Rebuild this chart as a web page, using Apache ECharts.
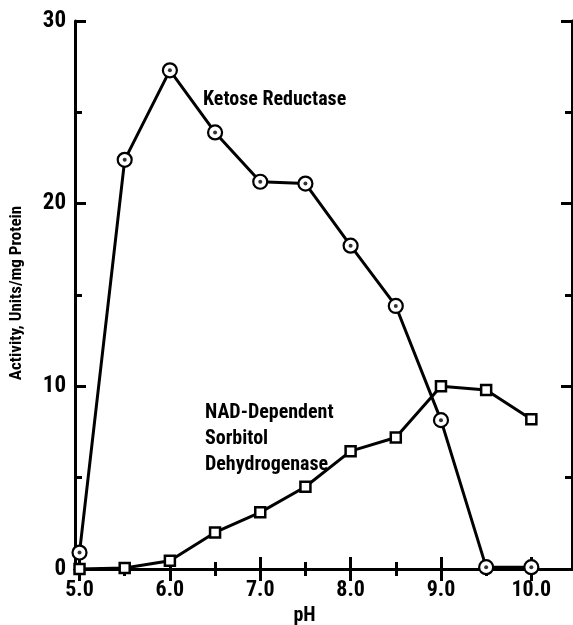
<!DOCTYPE html>
<html><head><meta charset="utf-8">
<script src="https://cdn.jsdelivr.net/npm/echarts@6/dist/echarts.min.js"></script>
<style>html,body{margin:0;padding:0;background:#fff}#c{width:573px;height:625px}</style>
</head><body><div id="c"></div>
<script>
const phValues = [5.0, 5.5, 6.0, 6.5, 7.0, 7.5, 8.0, 8.5, 9.0, 9.5, 10.0];
const ketoseReductase = [0.9, 22.4, 27.3, 23.9, 21.2, 21.1, 17.7, 14.4, 8.15, 0.1, 0.1];
const sorbitolDH = [0.0, 0.05, 0.45, 2.0, 3.1, 4.5, 6.45, 7.2, 10.0, 9.8, 8.2];
const xTickLabels = [5, 6, 7, 8, 9, 10];
const xHalfTicks = [5.5, 6.5, 7.5, 8.5, 9.5];
const yTickLabels = [0, 10, 20, 30];
const seriesNames = ['Ketose Reductase', 'NAD-Dependent Sorbitol Dehydrogenase'];
const annotationKetose = 'Ketose Reductase';
const annotationSDH = ['NAD-Dependent', 'Sorbitol', 'Dehydrogenase'];

const FONT = "'Roboto Condensed', 'Liberation Sans Narrow', 'DejaVu Sans Condensed', sans-serif";
const AX = {lineStyle: {color: '#000', width: 3}};
const pair = (xs, ys) => xs.map((x, i) => [x, ys[i]]);

const chart = echarts.init(document.getElementById('c'), null, {renderer: 'canvas'});
const xBase = {type: 'value', min: 4.95, max: 10.45, splitLine: {show: false}};
const yBase = {type: 'value', min: 0, max: 30, splitLine: {show: false}};
chart.setOption({
  animation: false,
  backgroundColor: '#fff',
  grid: {left: 75, right: 1, top: 21, bottom: 56, containLabel: false, outerBoundsMode: 'none'},
  xAxis: [
    Object.assign({}, xBase, {position: 'bottom', axisLine: AX,
      axisTick: {inside: true, length: 12, lineStyle: {width: 3, color: '#000'}, customValues: xTickLabels},
      axisLabel: {customValues: xTickLabels, formatter: v => v.toFixed(1), color: '#000',
        fontFamily: FONT, fontWeight: 'bold', fontSize: 22, margin: 10},
      name: 'pH', nameLocation: 'middle', nameGap: 33,
      nameTextStyle: {fontFamily: FONT, fontWeight: 'bold', fontSize: 20, color: '#000', padding: [0, 38, 0, 0]}}),
    Object.assign({}, xBase, {position: 'bottom', axisLine: {show: false},
      axisTick: {inside: true, length: 7, lineStyle: {width: 3, color: '#000'}, customValues: xHalfTicks},
      axisLabel: {show: false}}),
    Object.assign({}, xBase, {position: 'top', axisLine: AX,
      axisTick: {inside: true, length: 12, lineStyle: {width: 3, color: '#000'}, customValues: xTickLabels},
      axisLabel: {show: false}}),
    Object.assign({}, xBase, {position: 'top', axisLine: {show: false},
      axisTick: {inside: true, length: 7, lineStyle: {width: 3, color: '#000'}, customValues: xHalfTicks},
      axisLabel: {show: false}})
  ],
  yAxis: [
    Object.assign({}, yBase, {position: 'left', interval: 10, axisLine: AX,
      axisTick: {inside: true, length: 11, lineStyle: {width: 3, color: '#000'}},
      axisLabel: {customValues: yTickLabels, color: '#000', fontFamily: FONT, fontWeight: 'bold', fontSize: 23, margin: 9},
      name: 'Activity, Units/mg Protein', nameLocation: 'middle', nameGap: 50, nameRotate: 90,
      nameTextStyle: {fontFamily: FONT, fontWeight: 'bold', fontSize: 17, color: '#000', padding: [0, 0, 0, 4]}}),
    Object.assign({}, yBase, {position: 'left', interval: 5, axisLine: {show: false},
      axisTick: {inside: true, length: 7, lineStyle: {width: 3, color: '#000'}}, axisLabel: {show: false}}),
    Object.assign({}, yBase, {position: 'right', interval: 10, axisLine: AX,
      axisTick: {inside: true, length: 11, lineStyle: {width: 3, color: '#000'}}, axisLabel: {show: false}}),
    Object.assign({}, yBase, {position: 'right', interval: 5, axisLine: {show: false},
      axisTick: {inside: true, length: 7, lineStyle: {width: 3, color: '#000'}}, axisLabel: {show: false}})
  ],
  series: [
    {name: seriesNames[1], type: 'line', clip: false, data: pair(phValues, sorbitolDH),
      symbol: 'rect', symbolSize: 10, z: 3,
      itemStyle: {color: '#fff', borderColor: '#000', borderWidth: 2.5},
      lineStyle: {color: '#000', width: 3}},
    {name: seriesNames[0], type: 'line', clip: false, data: pair(phValues, ketoseReductase),
      symbol: 'circle', symbolSize: 14, z: 4,
      itemStyle: {color: '#fff', borderColor: '#000', borderWidth: 2.2},
      lineStyle: {color: '#000', width: 3}},
    {name: seriesNames[0] + ' centre', type: 'scatter', clip: false, data: pair(phValues, ketoseReductase),
      symbol: 'circle', symbolSize: 4, z: 5, itemStyle: {color: '#000'}, silent: true}
  ],
  graphic: [
    {type: 'text', left: 203, top: 90, z: 10,
      style: {text: annotationKetose, font: 'bold 20px ' + FONT, fill: '#000'}},
    {type: 'text', left: 205, top: 400, z: 10,
      style: {text: annotationSDH.join('\n'), font: 'bold 20px ' + FONT, fill: '#000', lineHeight: 26}}
  ]
});
</script></body></html>
